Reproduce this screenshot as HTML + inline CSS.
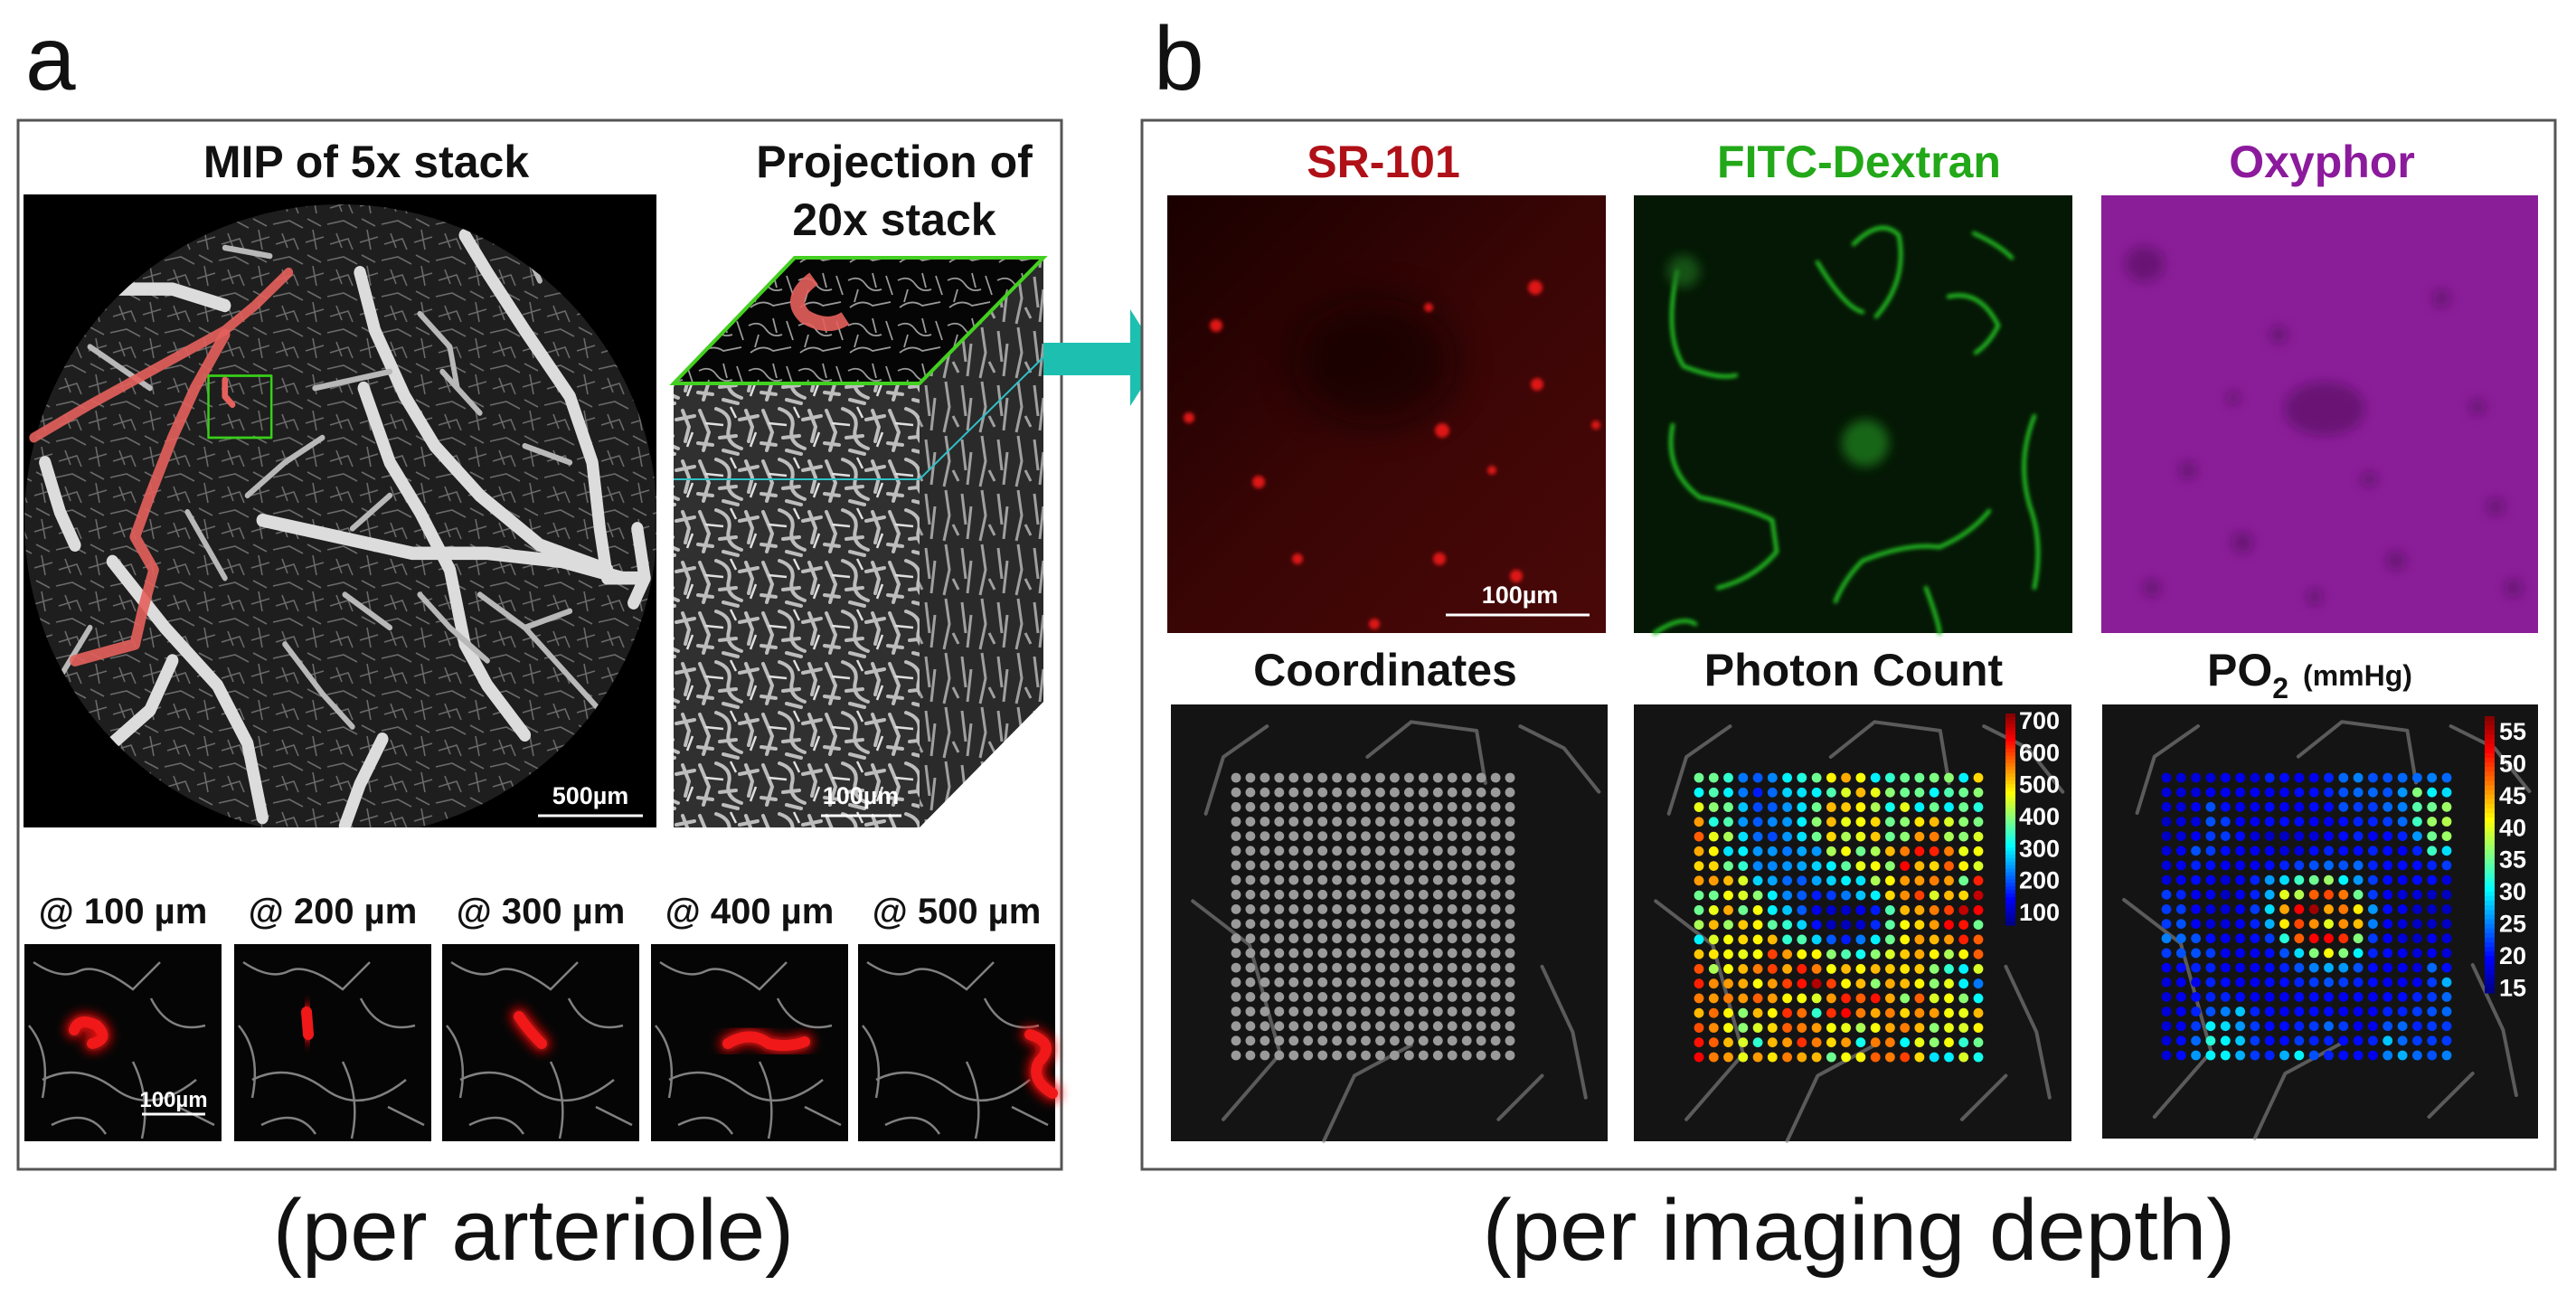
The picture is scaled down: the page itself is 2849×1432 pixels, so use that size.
<!DOCTYPE html>
<html><head><meta charset="utf-8"><style>
html,body{margin:0;padding:0;background:#fff;}
svg{display:block;}
text{font-family:"Liberation Sans",Arial,sans-serif;}
</style></head><body>
<svg id="fig" width="2849" height="1432" viewBox="0 0 2849 1432" xmlns="http://www.w3.org/2000/svg">
<defs>
<filter id="blur2" x="-50%" y="-50%" width="200%" height="200%"><feGaussianBlur stdDeviation="2"/></filter>
<filter id="blur6" x="-100%" y="-100%" width="300%" height="300%"><feGaussianBlur stdDeviation="6"/></filter>
<filter id="blur20" x="-100%" y="-100%" width="300%" height="300%"><feGaussianBlur stdDeviation="20"/></filter>
<clipPath id="mipClip"><rect x="26" y="215" width="700" height="700"/></clipPath>
<clipPath id="circClip"><circle cx="377" cy="576" r="350"/></clipPath>
<pattern id="capTex" width="60" height="40" patternUnits="userSpaceOnUse">
<rect width="60" height="40" fill="#1e1e1e"/>
<path d="M2 8 L20 4 L35 12 M40 2 L55 10 M5 30 L25 24 L30 36 M38 28 L58 22 M12 18 L18 34 M46 14 L50 36" stroke="#6a6a6a" stroke-width="1.6" fill="none"/>
</pattern>
<pattern id="cubeTex" width="70" height="56" patternUnits="userSpaceOnUse">
<rect width="70" height="56" fill="#303030"/>
<path d="M4 6 L14 30 L8 50 M22 4 Q40 10 36 26 T50 48 M55 6 L62 24 L58 40 M26 36 L44 34 M2 42 L18 44 M48 16 L68 12 M30 50 L46 54" stroke="#bdbdbd" stroke-width="4" fill="none" stroke-linecap="round"/>
<path d="M10 20 L30 22 M60 46 L66 30 M38 2 L44 14" stroke="#e0e0e0" stroke-width="2.5" fill="none"/>
</pattern>
<pattern id="sideTex" width="40" height="60" patternUnits="userSpaceOnUse">
<rect width="40" height="60" fill="#2a2a2a"/>
<path d="M6 2 L10 30 L4 58 M24 6 L28 40 M34 20 L30 56 M14 40 L20 52" stroke="#a0a0a0" stroke-width="3" fill="none"/>
</pattern>
<pattern id="capTexW" width="55" height="50" patternUnits="userSpaceOnUse">
<rect width="55" height="50" fill="#050505"/>
<path d="M3 10 Q15 4 22 14 T40 20 M30 2 L34 18 M5 40 Q18 30 30 38 L50 34 M45 5 L52 26 M14 20 L10 34" stroke="#9a9a9a" stroke-width="1.8" fill="none"/>
</pattern>
<linearGradient id="srShade" x1="0" y1="0" x2="1" y2="1"><stop offset="0" stop-color="#1a0000"/><stop offset="0.5" stop-color="#3a0505"/><stop offset="1" stop-color="#4a0808"/></linearGradient>
</defs>

<text x="28" y="99" font-size="100" fill="#111">a</text>
<text x="1276" y="99" font-size="100" fill="#111">b</text>

<g>
<rect x="20" y="133" width="1154" height="1160" fill="#fff" stroke="#555" stroke-width="3"/>
<text x="405" y="196" font-size="50" font-weight="bold" text-anchor="middle" fill="#111">MIP of 5x stack</text>
<text x="989" y="196" font-size="50" font-weight="bold" text-anchor="middle" fill="#111">Projection of</text>
<text x="989" y="260" font-size="50" font-weight="bold" text-anchor="middle" fill="#111">20x stack</text>

<g clip-path="url(#mipClip)">
<rect x="26" y="215" width="700" height="700" fill="#000"/>
<circle cx="377" cy="576" r="350" fill="url(#capTex)"/>
<g clip-path="url(#circClip)">
<g transform="scale(0.8292,0.9132)" fill="none" stroke-linecap="round" stroke-linejoin="round">
<g stroke="#dcdcdc" stroke-width="16">
<path d="M620 285 L650 330 L700 400 L760 480 L790 560 L800 640 L810 700 L850 700"/>
<path d="M480 330 L500 400 L540 480 L580 540 L640 600 L720 660 L810 690"/>
<path d="M350 630 L450 650 L550 670 L650 670 L750 680 L830 700"/>
<path d="M150 680 L220 760 L290 830 L330 900 L350 990"/>
<path d="M510 895 L480 950 L460 1000"/>
<path d="M150 350 L230 350 L300 370"/>
<path d="M60 560 L80 620 L100 660"/>
<path d="M485 470 L520 560 L560 620 L600 690 L620 780 L650 830 L700 890"/>
<path d="M850 640 L860 700 L845 730"/>
<path d="M230 800 L200 860 L150 900"/>
</g>
<g stroke="#b8b8b8" stroke-width="7">
<path d="M420 470 L470 460 L520 450 M330 600 L380 560 L430 530 M560 720 L600 760 L650 800 M700 760 L760 820 L800 860 M120 420 L200 470 M380 780 L430 840 L470 880 M590 450 L640 500 M700 540 L760 560 M460 720 L520 760 M250 620 L300 700"/>
<path d="M560 380 L600 420 L610 470 M300 300 L360 310 M690 280 L720 340 M120 760 L80 820 M520 600 L470 640 M640 720 L700 760 L760 740"/>
</g>
</g>
</g>
<g transform="scale(0.8292,0.9132)" fill="none" stroke-linecap="round" stroke-linejoin="round">
<path d="M385 330 L340 370 L300 400 L200 450 L120 490 L45 530" stroke="#e5605c" stroke-width="12" opacity="0.9"/>
<path d="M300 405 L260 470 L230 530 L200 600 L180 650 L205 690 L190 740 L180 780 L100 800" stroke="#e5605c" stroke-width="14" opacity="0.9"/>
<path d="M300 460 L300 480 L310 490" stroke="#e5605c" stroke-width="8"/>
<rect x="278" y="455" width="84" height="75" stroke="#38d018" stroke-width="3"/>
</g>
</g>
<line x1="595" y1="902" x2="711" y2="902" stroke="#fff" stroke-width="3"/>
<text x="653" y="889" font-size="27" font-weight="bold" fill="#fff" text-anchor="middle">500µm</text>

<g>
<rect x="745" y="424" width="272" height="491" fill="url(#cubeTex)"/>
<polygon points="1017,424 1154,285 1154,776 1017,915" fill="url(#sideTex)"/>
<polygon points="745,424 879,285 1154,285 1017,424" fill="url(#capTexW)"/>
<path d="M900 308 Q870 330 890 350 Q915 365 935 352" stroke="#e5605c" stroke-width="16" fill="none" opacity="0.9"/>
<polygon points="745,424 879,285 1154,285 1017,424" fill="none" stroke="#44d020" stroke-width="4"/>
<line x1="745" y1="530" x2="1017" y2="530" stroke="#30c0c8" stroke-width="2"/>
<line x1="1017" y1="530" x2="1154" y2="395" stroke="#30c0c8" stroke-width="2"/>
<line x1="908" y1="902" x2="997" y2="902" stroke="#fff" stroke-width="3"/>
<text x="952" y="889" font-size="27" font-weight="bold" fill="#fff" text-anchor="middle">100µm</text>
</g>

<g id="thumbs"></g>
<text x="590" y="1393" font-size="96" text-anchor="middle" fill="#111">(per arteriole)</text>
</g>

<polygon points="1154,379 1250,379 1250,342 1284,396 1250,449 1250,415 1154,415" fill="#1dc0b0"/>

<g>
<rect x="1263" y="133" width="1563" height="1160" fill="#fff" stroke="#555" stroke-width="3"/>
<text x="1530" y="196" font-size="50" font-weight="bold" text-anchor="middle" fill="#b01018">SR-101</text>
<text x="2056" y="196" font-size="50" font-weight="bold" text-anchor="middle" fill="#22a818">FITC-Dextran</text>
<text x="2568" y="196" font-size="50" font-weight="bold" text-anchor="middle" fill="#8c1a9c">Oxyphor</text>
<text x="1532" y="758" font-size="50" font-weight="bold" text-anchor="middle" fill="#111">Coordinates</text>
<text x="2050" y="758" font-size="50" font-weight="bold" text-anchor="middle" fill="#111">Photon Count</text>
<text x="2441" y="758" font-size="50" font-weight="bold" fill="#111">PO<tspan font-size="32" dy="14">2</tspan><tspan font-size="32" dx="16" dy="-14">(mmHg)</tspan></text>

<g>
<rect x="1291" y="216" width="485" height="484" fill="url(#srShade)"/>
<ellipse cx="1520" cy="400" rx="90" ry="70" fill="#0a0000" opacity="0.6" filter="url(#blur20)"/>
<g fill="#e01818" filter="url(#blur2)">
<circle cx="1345" cy="360" r="7"/><circle cx="1698" cy="318" r="8"/><circle cx="1700" cy="425" r="7"/><circle cx="1595" cy="476" r="8"/><circle cx="1315" cy="462" r="6"/><circle cx="1392" cy="533" r="7"/><circle cx="1592" cy="618" r="7"/><circle cx="1435" cy="618" r="6"/><circle cx="1677" cy="637" r="7"/><circle cx="1520" cy="690" r="6"/><circle cx="1580" cy="340" r="5"/><circle cx="1650" cy="520" r="5"/><circle cx="1765" cy="470" r="5"/>
</g>
<line x1="1599" y1="680" x2="1758" y2="680" stroke="#fff" stroke-width="3"/>
<text x="1681" y="667" font-size="27" font-weight="bold" fill="#fff" text-anchor="middle">100µm</text>
</g>

<g>
<rect x="1807" y="216" width="485" height="484" fill="#051805"/>
<g fill="none" stroke="#22c022" stroke-width="4.5" stroke-linecap="round" filter="url(#blur2)">
<path d="M2050 270 Q2080 240 2100 260 Q2110 310 2075 350"/>
<path d="M2010 290 Q2040 340 2060 345"/>
<path d="M2183 258 Q2210 270 2225 285"/>
<path d="M1855 300 Q1840 370 1862 405 Q1900 420 1920 415"/>
<path d="M2155 328 Q2190 320 2210 360 Q2200 380 2185 390"/>
<path d="M1850 470 Q1840 520 1880 550 Q1930 560 1960 575 L1965 610 Q1940 640 1900 650"/>
<path d="M2250 460 Q2230 510 2245 560 Q2260 600 2250 650"/>
<path d="M2030 665 Q2040 640 2060 620 Q2110 600 2145 605 Q2180 590 2200 565"/>
<path d="M2130 650 Q2145 690 2145 700"/>
<path d="M1830 700 Q1860 680 1875 690"/>
</g>
<circle cx="2063" cy="490" r="26" fill="#1a7a1a" opacity="0.8" filter="url(#blur6)"/>
<circle cx="1862" cy="300" r="18" fill="#1a6a1a" opacity="0.7" filter="url(#blur6)"/>
</g>

<g>
<rect x="2324" y="216" width="483" height="484" fill="#8a1e98"/>
<g fill="#55105f" filter="url(#blur6)" opacity="0.6">
<ellipse cx="2571" cy="452" rx="45" ry="30"/><ellipse cx="2372" cy="292" rx="22" ry="20"/><circle cx="2420" cy="520" r="10"/><circle cx="2480" cy="600" r="12"/><circle cx="2700" cy="330" r="10"/><circle cx="2760" cy="560" r="10"/><circle cx="2650" cy="620" r="11"/><circle cx="2380" cy="650" r="10"/><circle cx="2620" cy="530" r="9"/><circle cx="2740" cy="450" r="9"/><circle cx="2520" cy="370" r="10"/><circle cx="2470" cy="440" r="8"/><circle cx="2560" cy="660" r="9"/><circle cx="2780" cy="650" r="10"/>
</g>
</g>

<g id="coordImg"></g>
<g id="photonImg"></g>
<g id="po2Img"></g>

<text x="2056" y="1393" font-size="96" text-anchor="middle" fill="#111">(per imaging depth)</text>
</g>
</svg>

<script>
const gridCols = 20;
const gridRows = 20;
const photonTicks = [700,600,500,400,300,200,100];
const po2Ticks = [55,50,45,40,35,30,25,20,15];
const photonDomain = [60,723];
const po2Domain = [14.2,57.4];
const depthLabels = ["@ 100 µm","@ 200 µm","@ 300 µm","@ 400 µm","@ 500 µm"];

const photonValues = [
[380,380,340,220,200,230,300,330,380,480,530,470,300,340,380,380,390,400,300,500],
[310,360,300,220,160,210,280,290,300,360,450,520,460,400,380,380,310,360,380,400],
[460,400,380,270,190,200,240,290,380,520,510,480,420,320,460,300,380,300,380,330],
[540,330,360,240,200,230,240,300,400,520,460,470,500,380,400,490,520,450,400,390],
[580,460,420,290,210,190,240,290,380,500,420,460,510,380,400,540,560,420,400,450],
[530,480,290,300,240,240,220,250,240,420,470,380,420,520,560,630,620,560,460,470],
[500,500,380,340,230,230,240,250,280,300,370,460,470,400,640,520,500,580,480,450],
[540,540,520,450,280,250,210,200,250,280,300,290,420,480,540,540,560,540,380,620],
[380,380,470,450,400,300,230,200,160,180,220,270,300,500,550,600,450,520,500,680],
[380,460,530,380,470,300,270,200,130,110,110,130,160,360,520,530,560,600,680,640],
[420,520,410,510,480,370,340,280,150,100,100,110,170,370,470,500,540,640,630,380],
[300,450,470,500,480,520,340,360,280,200,160,220,300,380,480,540,520,540,620,580],
[510,490,470,460,470,600,540,480,480,400,360,320,400,450,510,530,480,420,480,580],
[590,420,470,520,560,600,530,620,560,470,520,480,520,510,490,510,400,340,300,450],
[620,550,540,530,470,540,600,630,690,600,480,520,400,530,520,480,400,460,300,220],
[560,540,560,540,580,540,480,470,450,540,620,580,630,530,400,580,450,470,400,310],
[520,570,480,400,520,480,610,570,340,610,640,560,530,560,500,550,540,470,460,520],
[590,550,470,400,450,500,580,560,540,470,460,420,470,530,560,520,400,460,450,480],
[630,580,520,450,340,520,540,610,560,500,540,320,560,560,310,460,400,470,340,380],
[640,560,540,460,540,490,560,530,520,380,470,480,580,560,600,500,290,300,450,320]
];
const po2Values = [
[18,18,18,18,19,19,18,21,20,19,19,21,24,25,23,23,24,24,25,24],
[18,18,18,19,19,19,19,19,19,20,20,21,23,24,24,23,26,36,30,29],
[18,18,19,23,20,19,19,20,19,19,20,20,23,22,22,24,25,34,35,37],
[17,18,18,23,22,19,19,20,20,20,19,19,20,21,21,22,24,33,37,38],
[17,18,19,22,22,20,18,17,17,18,18,19,20,21,19,20,21,26,35,37],
[18,19,23,22,20,19,19,19,18,18,20,21,20,20,21,20,19,21,33,29],
[18,19,21,20,19,19,19,20,21,22,23,24,23,24,21,20,20,20,21,22],
[18,19,20,19,18,19,21,26,29,33,35,37,30,26,22,20,19,20,20,18],
[22,21,19,19,17,19,21,27,40,38,48,49,47,35,22,19,18,18,17,17],
[22,22,19,18,18,19,22,29,45,52,56,45,47,42,26,20,19,17,17,17],
[22,23,19,18,18,19,21,27,42,49,46,40,46,44,25,19,18,17,17,17],
[25,24,23,20,19,19,20,22,32,48,52,52,50,36,22,19,18,17,19,18],
[22,23,23,22,19,19,19,20,23,29,36,41,36,30,21,20,19,18,19,18],
[19,20,21,21,19,19,19,20,21,23,25,27,26,23,20,19,19,18,24,20],
[18,19,19,21,20,19,19,20,20,21,22,23,22,21,20,19,19,19,22,27],
[18,19,20,21,21,20,19,19,19,20,20,20,19,20,19,20,20,21,22,24],
[18,19,21,23,25,28,21,20,19,20,20,20,19,19,19,21,21,22,23,24],
[18,19,22,30,29,26,22,20,20,21,22,24,22,19,19,23,24,21,22,22],
[18,20,24,32,30,28,22,20,20,22,21,21,20,20,21,28,24,22,22,22],
[18,20,26,30,30,27,22,21,27,30,23,21,20,20,19,25,27,24,23,25]
];

const NS = "http://www.w3.org/2000/svg";
function mk(tag, attrs, parent){
  const e = document.createElementNS(NS, tag);
  for (const k in attrs) e.setAttribute(k, attrs[k]);
  parent.appendChild(e);
  return e;
}
function clamp(v){return Math.max(0,Math.min(1,v));}
function jet(t){
  t = clamp(t);
  const r = clamp(1.5 - Math.abs(4*t-3)), g = clamp(1.5 - Math.abs(4*t-2)), b = clamp(1.5 - Math.abs(4*t-1));
  return "rgb(" + Math.round(r*255) + "," + Math.round(g*255) + "," + Math.round(b*255) + ")";
}
function linScale(d0,d1,r0,r1){return v => r0 + (v-d0)/(d1-d0)*(r1-r0);}

function bgVessels(g, x, y, w, h){
  const sx = v => x + v*w, sy = v => y + v*h;
  const paths = [
    [[0.08,0.25],[0.12,0.12],[0.22,0.05]],
    [[0.45,0.12],[0.55,0.04],[0.70,0.06],[0.72,0.18]],
    [[0.05,0.45],[0.18,0.55],[0.25,0.80],[0.12,0.95]],
    [[0.85,0.60],[0.92,0.75],[0.95,0.90]],
    [[0.35,1.0],[0.42,0.85],[0.55,0.78]],
    [[0.75,0.95],[0.85,0.85]],
    [[0.8,0.05],[0.9,0.1],[0.98,0.2]]
  ];
  paths.forEach(p => {
    const d = "M" + p.map(q => sx(q[0]).toFixed(1) + " " + sy(q[1]).toFixed(1)).join(" L");
    const e = mk("path", {d:d, fill:"none", stroke:"#8a8a8a", "stroke-width":4, "stroke-linecap":"round", "stroke-linejoin":"round", opacity:0.6}, g);
    
    
  });
}

function drawMap(gId, box, dot, values, domain, colorFn){
  const g = document.getElementById(gId);
  const bg = mk("rect", {x:box[0], y:box[1], width:box[2]-box[0], height:box[3]-box[1], fill:"#141414"}, g);
  
  
  bgVessels(g, box[0], box[1], box[2]-box[0], box[3]-box[1]);
  const xs = linScale(0, gridCols-1, dot[0], dot[1]);
  const ys = linScale(0, gridRows-1, dot[2], dot[3]);
  for (let r = 0; r < gridRows; r++){
    for (let c = 0; c < gridCols; c++){
      const fill = values ? colorFn(values[r][c]) : "#9a9a9a";
      const ci = mk("circle", {cx:xs(c).toFixed(1), cy:ys(r).toFixed(1), r:5.4, fill:fill}, g);
      
      
    }
  }
  return g;
}

function drawColorbar(g, x, y0, y1, domain, ticks, labelX){
  const steps = 60;
  const h = (y1-y0)/steps;
  for (let i = 0; i < steps; i++){
    const t = 1 - (i+0.5)/steps;
    const seg = mk("rect", {x:x, y:(y0+i*h).toFixed(2), width:11, height:(h+0.6).toFixed(2), fill:jet(t)}, g);
    
    
  }
  const ys = linScale(domain[0], domain[1], y1, y0);
  ticks.forEach(v => {
    const t = mk("text", {x:labelX, y:(ys(v)+9).toFixed(1), "font-size":27, "font-weight":"bold", fill:"#fff"}, g);
    t.textContent = String(v);
    
    
  });
}

drawMap("coordImg", [1295,779,1778,1262], [1367,1670,860,1167], null, null, null);
const photonNorm = v => jet((v - photonDomain[0]) / (photonDomain[1] - photonDomain[0]));
const pg = drawMap("photonImg", [1807,779,2291,1262], [1879,2188,860,1169], photonValues, photonDomain, photonNorm);
drawColorbar(pg, 2218, 789, 1023, photonDomain, photonTicks, 2233);
const po2Norm = v => jet((v - po2Domain[0]) / (po2Domain[1] - po2Domain[0]));
const og = drawMap("po2Img", [2325,779,2807,1259], [2396,2706,860,1167], po2Values, po2Domain, po2Norm);
drawColorbar(og, 2748, 792, 1098, po2Domain, po2Ticks, 2764);

const thumbX = [27,259,489,720,949];
const redBlobs = [
  "M55 95 Q60 80 80 90 Q95 105 75 110",
  "M80 75 L82 100",
  "M85 80 Q95 95 110 110",
  "M85 110 Q110 95 130 110 Q150 115 170 108",
  "M190 100 Q220 110 200 130 Q190 150 215 165"
];
const tg = document.getElementById("thumbs");
thumbX.forEach((x, i) => {
  const lbl = mk("text", {x:x+109, y:1021, "font-size":40, "font-weight":"bold", "text-anchor":"middle", fill:"#111"}, tg);
  lbl.textContent = depthLabels[i];
  
  
  const g = mk("g", {transform:"translate(" + x + ",1044)"}, tg);
  
  
  mk("rect", {x:0, y:0, width:218, height:218, fill:"#050505"}, g);
  mk("path", {d:"M10 20 Q40 40 60 30 T120 50 L150 20 M20 150 Q60 130 100 160 T190 150 M140 60 Q160 100 200 90 M30 200 Q70 180 90 210 M170 180 L210 200 M5 90 Q30 120 20 170 M120 130 Q140 170 130 215",
    fill:"none", stroke:"#a0a0a0", "stroke-width":2.5, opacity:0.8}, g);
  mk("path", {d:redBlobs[i], fill:"none", stroke:"#ee1010", "stroke-width":18, "stroke-linecap":"round", filter:"url(#blur6)"}, g);
  mk("path", {d:redBlobs[i], fill:"none", stroke:"#f01818", "stroke-width":12, "stroke-linecap":"round"}, g);
  if (i === 0){
    mk("line", {x1:130, y1:188, x2:200, y2:188, stroke:"#fff", "stroke-width":3}, g);
    const s = mk("text", {x:165, y:180, "font-size":24, "font-weight":"bold", fill:"#fff", "text-anchor":"middle"}, g);
    s.textContent = "100µm";
    
    
  }
});
</script>
</body></html>
